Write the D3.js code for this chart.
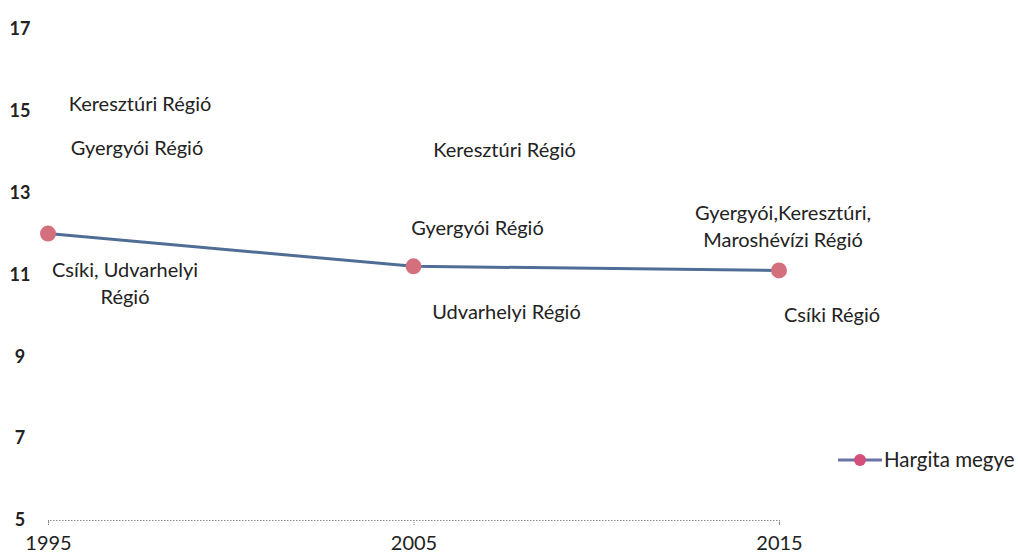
<!DOCTYPE html>
<html>
<head>
<meta charset="utf-8">
<script src="https://cdn.jsdelivr.net/npm/d3@7"></script>
<style>
  body { margin: 0; background: #fff; }
  text { font-family: Lato, "Open Sans", sans-serif; }
</style>
</head>
<body>
<div id="chart"></div>
<script>
// adatok
const years = [1995, 2005, 2015];
const hargita = [12.0, 11.2, 11.1];
const yTicks = [5, 7, 9, 11, 13, 15, 17];
const seriesName = 'Hargita megye';

// régió feliratok (év, szint az y tengelyen, sorok)
const noteYears = [1995, 1995, 1995, 2005, 2005, 2005, 2015, 2015];
const noteLevels = [15.17, 14.09, 11.11, 14.04, 12.14, 10.08, 12.5, 10.01];
const noteLines = [
    ['Keresztúri Régió'],
    ['Gyergyói Régió'],
    ['Csíki, Udvarhelyi', 'Régió'],
    ['Keresztúri Régió'],
    ['Gyergyói Régió'],
    ['Udvarhelyi Régió'],
    ['Gyergyói,Keresztúri,', 'Maroshévízi  Régió'],
    ['Csíki Régió']
];

function drawChart() {
    const svgWidth = 1018;
    const svgHeight = 555;

    const svg = d3.select('#chart')
        .append('svg')
        .attr('width', svgWidth)
        .attr('height', svgHeight);

    const xScale = d3.scaleLinear()
        .domain([1995, 2015])
        .range([48, 779]);

    const yScale = d3.scaleLinear()
        .domain([5, 17])
        .range([520, 29]);

    // x tengely (pontozott vonal)
    const xAxis = svg.append('g')
        .attr('transform', `translate(0,${yScale(5)})`)
        .call(d3.axisBottom(xScale).tickValues(years).tickFormat(d3.format('d')).tickSize(5).tickPadding(11));
    xAxis.select('.domain')
        .attr('stroke', '#8a8a8a')
        .attr('stroke-dasharray', '1.5,1.5');
    xAxis.selectAll('.tick line')
        .attr('stroke', '#8a8a8a')
        .attr('stroke-dasharray', '1,1');
    xAxis.selectAll('.tick text')
        .attr('font-size', 20)
        .attr('font-family', 'Lato, sans-serif')
        .attr('fill', '#222');

    // y tengely feliratok
    svg.append('g')
        .selectAll('text')
        .data(yTicks)
        .join('text')
        .attr('x', 20)
        .attr('y', d => yScale(d))
        .attr('dy', '0.35em')
        .attr('text-anchor', 'middle')
        .attr('font-size', 18)
        .attr('font-weight', 700)
        .attr('fill', '#222')
        .text(d => d);

    // vonal
    const line = d3.line()
        .x((d, i) => xScale(years[i]))
        .y(d => yScale(d));

    svg.append('path')
        .datum(hargita)
        .attr('fill', 'none')
        .attr('stroke', '#4f6e96')
        .attr('stroke-width', 3)
        .attr('d', line);

    svg.append('g')
        .selectAll('circle')
        .data(hargita)
        .join('circle')
        .attr('cx', (d, i) => xScale(years[i]))
        .attr('cy', d => yScale(d))
        .attr('r', 8)
        .attr('fill', '#d4707e');

    // feliratok
    const noteDx = [92, 89, 77, 91, 64, 93, 4, 53];
    const notes = svg.append('g');
    noteLines.forEach((lines, k) => {
        const cx = xScale(noteYears[k]) + noteDx[k];
        const t = notes.append('text')
            .attr('x', cx)
            .attr('y', yScale(noteLevels[k]))
            .attr('text-anchor', 'middle')
            .attr('font-size', 20)
            .attr('fill', '#222');
        lines.forEach((s, j) => {
            t.append('tspan')
                .attr('x', cx)
                .attr('dy', j === 0 ? '0.35em' : 27)
                .text(s);
        });
    });

    // jelmagyarázat
    const legend = svg.append('g')
        .attr('transform', 'translate(838,460)');
    legend.append('line')
        .attr('x1', 0).attr('x2', 44)
        .attr('stroke', '#6b72a6')
        .attr('stroke-width', 3);
    legend.append('circle')
        .attr('cx', 22)
        .attr('r', 6)
        .attr('fill', '#d4507a');
    legend.append('text')
        .attr('x', 46)
        .attr('dy', '0.35em')
        .attr('font-size', 20.5)
        .attr('fill', '#222')
        .text(seriesName);
}

drawChart();
</script>
</body>
</html>
